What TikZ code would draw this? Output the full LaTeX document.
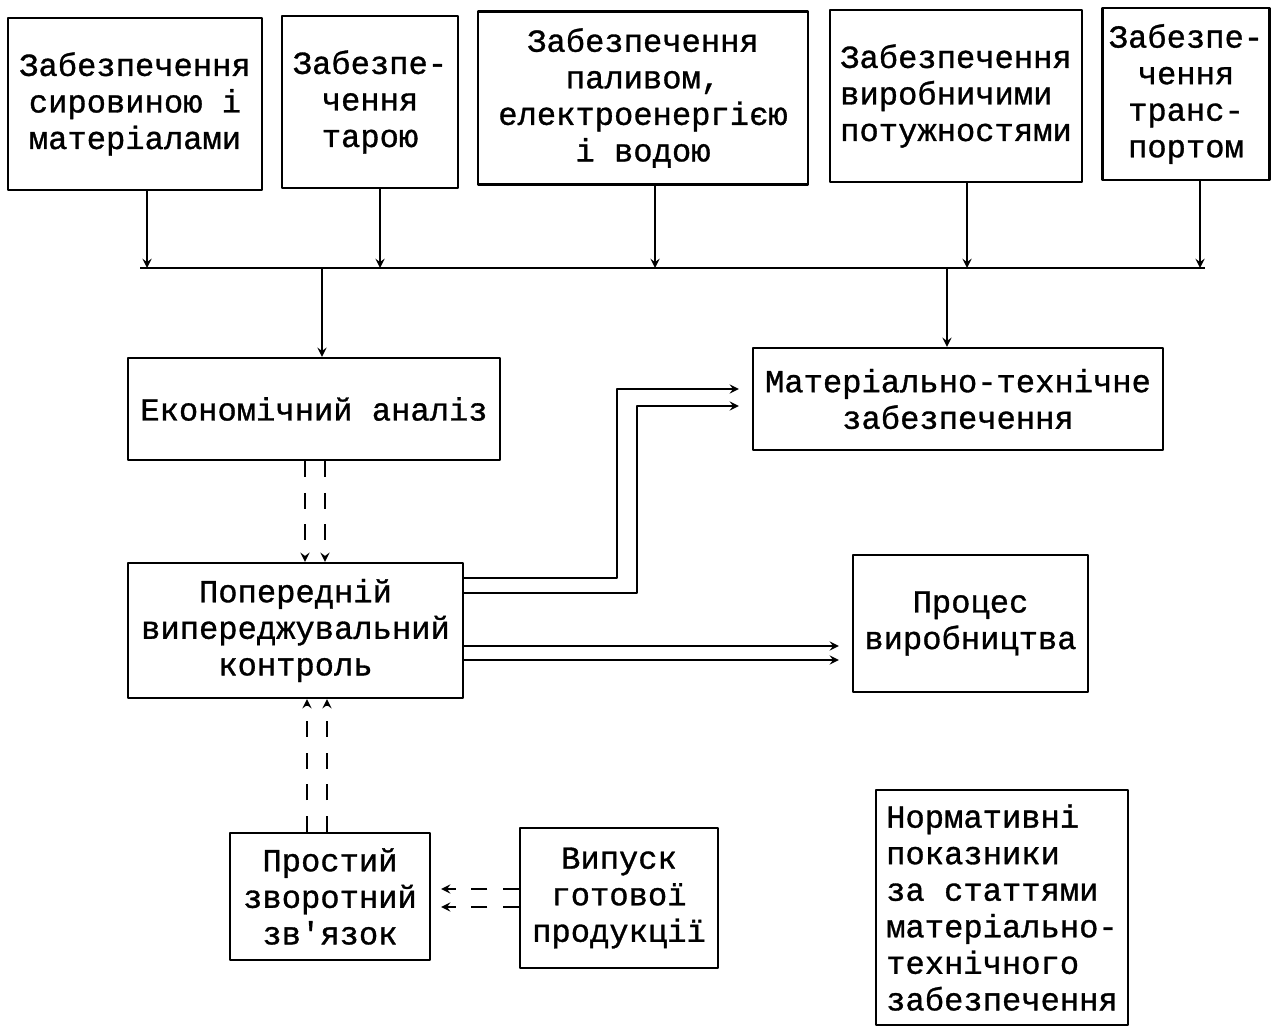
\documentclass[tikz,border=0pt]{standalone}
\usepackage{fontspec}
\setmonofont[FakeBold=1]{Liberation Mono}
\begin{document}
\begin{tikzpicture}[x=0.02cm,y=-0.02cm,>=stealth,line width=1.3pt,line join=round,
	font=\ttfamily\fontsize{18.3}{20.8}\selectfont,
	box/.style={draw,inner sep=0pt,align=center},
	dline/.style={dash pattern=on 9pt off 9pt}]
	\useasboundingbox (0,0) rectangle (1286,1027);
	% верхній ряд
	\node[box,minimum width=5.08cm,minimum height=3.44cm] (syr) at (135,104) {Забезпечення\\сировиною і\\матеріалами};
	\node[box,minimum width=3.52cm,minimum height=3.44cm] (tara) at (370,102) {Забезпе-\\чення\\тарою};
	\node[box,minimum width=6.60cm,minimum height=3.46cm] (palyvo) at (643,98) {Забезпечення\\паливом,\\електроенергією\\і водою};
	\node[box,align=left,minimum width=5.04cm,minimum height=3.44cm] (potuzh) at (956,96) {Забезпечення\\виробничими\\потужностями};
	\node[box,minimum width=3.34cm,minimum height=3.44cm] (trans) at (1186,94) {Забезпе-\\чення\\транс-\\портом};
	% шина
	\coordinate (j1) at (147,268); \coordinate (j2) at (380,268);
	\coordinate (j3) at (655,268); \coordinate (j4) at (967,268);
	\coordinate (j5) at (1200,268);
	\coordinate (e0) at (322,268); \coordinate (m0) at (947,268);
	\draw ([xshift=-0.14cm]j1) -- ([xshift=0.1cm]j5);
	\draw[->] (syr.south -| j1) -- (j1);
	\draw[->] (tara.south -| j2) -- (j2);
	\draw[->] (palyvo.south -| j3) -- (j3);
	\draw[->] (potuzh.south -| j4) -- (j4);
	\draw[->] (trans.south -| j5) -- (j5);
	% середні блоки
	\node[box,minimum width=7.44cm,minimum height=2.04cm] (econ) at (314,409) {Економічний аналіз};
	\node[box,minimum width=8.20cm,minimum height=2.04cm] (mat) at (958,399) {Матеріально-технічне\\забезпечення};
	\node[box,minimum width=6.70cm,minimum height=2.70cm] (kontr) at (295.5,630.5) {Попередній\\випереджувальний\\контроль};
	\node[box,minimum width=4.70cm,minimum height=2.74cm] (proc) at (970.5,623.5) {Процес\\виробництва};
	\draw[->] (e0) -- (e0 |- econ.north);
	\draw[->] (m0) -- (m0 |- mat.north);
	\draw[dline,->] ([xshift=-0.18cm]econ.south) -- ([xshift=-0.18cm]econ.south |- kontr.north);
	\draw[dline,->] ([xshift=0.22cm]econ.south) -- ([xshift=0.22cm]econ.south |- kontr.north);
	\draw[->,shorten >=0.26cm] ([yshift=1.05cm]kontr.east) -| ([xshift=-2.7cm,yshift=0.2cm]mat.west) -- ([yshift=0.2cm]mat.west);
	\draw[->,shorten >=0.26cm] ([yshift=0.75cm]kontr.east) -| ([xshift=-2.3cm,yshift=-0.14cm]mat.west) -- ([yshift=-0.14cm]mat.west);
	\draw[->,shorten >=0.26cm] ([yshift=-0.31cm]kontr.east) -- ([yshift=-0.31cm]kontr.east -| proc.west);
	\draw[->,shorten >=0.26cm] ([yshift=-0.59cm]kontr.east) -- ([yshift=-0.59cm]kontr.east -| proc.west);
	% нижній ряд
	\node[box,minimum width=4.00cm,minimum height=2.54cm] (prost) at (330,896.5) {Простий\\зворотний\\зв'язок};
	\node[box,minimum width=3.96cm,minimum height=2.80cm] (vyp) at (619,898) {Випуск\\готової\\продукції};
	\node[box,align=left,minimum width=5.04cm,minimum height=4.70cm] (norm) at (1002,907.5) {Нормативні\\показники\\за статтями\\матеріально-\\технічного\\забезпечення};
	\draw[dline,->] ([xshift=-0.46cm]prost.north) -- ([xshift=-0.46cm]prost.north |- kontr.south);
	\draw[dline,->] ([xshift=-0.06cm]prost.north) -- ([xshift=-0.06cm]prost.north |- kontr.south);
	\draw[dline,->,shorten >=0.2cm] ([yshift=0.18cm]vyp.west) -- ([yshift=0.18cm]vyp.west -| prost.east);
	\draw[dline,->,shorten >=0.2cm] ([yshift=-0.18cm]vyp.west) -- ([yshift=-0.18cm]vyp.west -| prost.east);
\end{tikzpicture}
\end{document}
